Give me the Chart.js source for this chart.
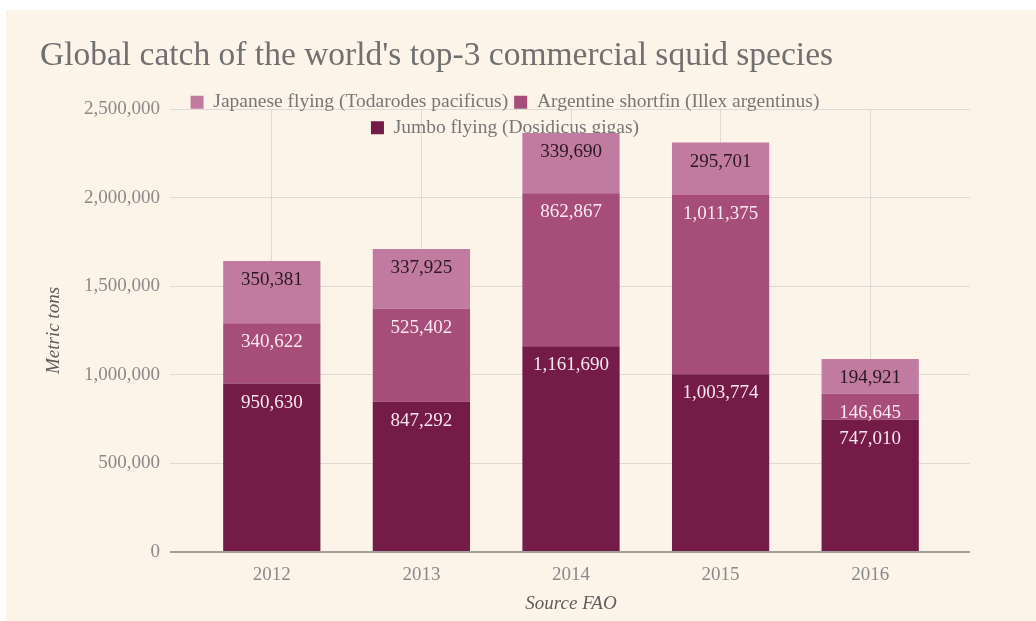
<!DOCTYPE html>
<html><head><meta charset="utf-8">
<script src="https://cdn.jsdelivr.net/npm/chart.js@4.4.1/dist/chart.umd.min.js"></script>
<style>
html,body{margin:0;padding:0;background:#fff;}
#bg{position:absolute;left:6px;top:10px;width:1030px;height:611px;background:#fcf3e9;}
#wrap{position:absolute;left:0;top:0;width:1036px;height:621px;}
</style></head><body>
<div id="bg"></div>
<div id="wrap"><canvas id="c" width="1036" height="621"></canvas></div>
<script>
const years = ['2012', '2013', '2014', '2015', '2016'];
const jumbo = [950630, 847292, 1161690, 1003774, 747010];
const argentine = [340622, 525402, 862867, 1011375, 146645];
const japanese = [350381, 337925, 339690, 295701, 194921];
const seriesNames = ['Jumbo flying (Dosidicus gigas)', 'Argentine shortfin (Illex argentinus)', 'Japanese flying (Todarodes pacificus)'];
const yTicks = [0, 500000, 1000000, 1500000, 2000000, 2500000];
const titleText = "Global catch of the world's top-3 commercial squid species";
const yTitle = 'Metric tons';
const xTitle = 'Source FAO';

const SERIF = '"Liberation Serif", "Times New Roman", serif';
const gridColor = (c) => (c.tick && c.tick.value === 0) ? '#a3a09c' : '#dedad5';
const gridWidth = (c) => (c.tick && c.tick.value === 0) ? 2 : 1;

const valueLabels = {
  id: 'valueLabels',
  afterDatasetsDraw(chart) {
    const ctx = chart.ctx;
    ctx.save();
    ctx.font = '19px ' + SERIF;
    ctx.textAlign = 'center';
    ctx.textBaseline = 'middle';
    chart.data.datasets.forEach((ds, i) => {
      const meta = chart.getDatasetMeta(i);
      meta.data.forEach((el, j) => {
        ctx.fillStyle = ds.labelColor;
        ctx.fillText(ds.data[j].toLocaleString('en-US'), el.x, el.y + 19);
      });
    });
    ctx.restore();
  }
};

const legendShift = {
  id: 'legendShift',
  afterLayout(chart) {
    const L = chart.legend;
    const dy = 38.5, dx = -66;
    L.top += dy; L.bottom += dy;
    L.left += dx; L.right += dx;
  }
};

new Chart(document.getElementById('c'), {
  type: 'bar',
  data: {
    labels: years,
    datasets: [
      { label: seriesNames[0], data: jumbo, backgroundColor: '#741b47', labelColor: '#f6e6ee' },
      { label: seriesNames[1], data: argentine, backgroundColor: '#a64d79', labelColor: '#f8e9f0' },
      { label: seriesNames[2], data: japanese, backgroundColor: '#c27ba0', labelColor: '#2a1820' }
    ]
  },
  options: {
    responsive: false,
    animation: false,
    devicePixelRatio: 1,
    categoryPercentage: 1,
    barPercentage: 0.65,
    layout: { padding: { left: 40, right: 0, top: 0, bottom: 4 } },
    plugins: {
      title: {
        display: true, text: titleText, align: 'start', color: '#707070',
        font: { family: SERIF, size: 33.5, weight: 'normal' },
        padding: { top: 36, bottom: -28.2 }
      },
      legend: {
        display: true, position: 'top', fullSize: false, reverse: true,
        labels: {
          boxWidth: 13, boxHeight: 13, padding: 6, color: '#777777',
          font: { family: SERIF, size: 19.5 }
        }
      },
      tooltip: { enabled: false }
    },
    scales: {
      x: {
        stacked: true,
        offset: true,
        grid: { offset: false, drawTicks: false, color: '#dedad5' },
        border: { display: false },
        ticks: { padding: 12, color: '#8a8a8a', font: { family: SERIF, size: 19 } },
        title: { display: true, text: xTitle, color: '#5e5e5e', font: { family: SERIF, size: 19, style: 'italic' }, padding: { top: 6, bottom: 2 } },
        afterFit: (s) => { s.height = 65; }
      },
      y: {
        stacked: true, min: 0, max: 2500000,
        afterBuildTicks: (s) => { s.ticks = yTicks.map(v => ({ value: v })); },
        ticks: { padding: 10, color: '#8a8a8a', font: { family: SERIF, size: 19 }, callback: (v) => Number(v).toLocaleString('en-US') },
        grid: { color: gridColor, lineWidth: gridWidth, tickLength: 27, drawTicks: true },
        border: { display: false },
        title: { display: true, text: yTitle, color: '#5e5e5e', font: { family: SERIF, size: 19, style: 'italic' }, padding: { top: 3, bottom: 0 } },
        afterFit: (s) => { s.width = 157; }
      },
      y2: {
        position: 'right', min: 0, max: 2500000,
        afterBuildTicks: (s) => { s.ticks = yTicks.map(v => ({ value: v })); },
        ticks: { display: false },
        grid: { color: gridColor, lineWidth: gridWidth, tickLength: 25, drawTicks: true, drawOnChartArea: false },
        border: { display: false },
        afterFit: (s) => { s.width = 91; }
      }
    }
  },
  plugins: [valueLabels, legendShift]
});
</script>
</body></html>
